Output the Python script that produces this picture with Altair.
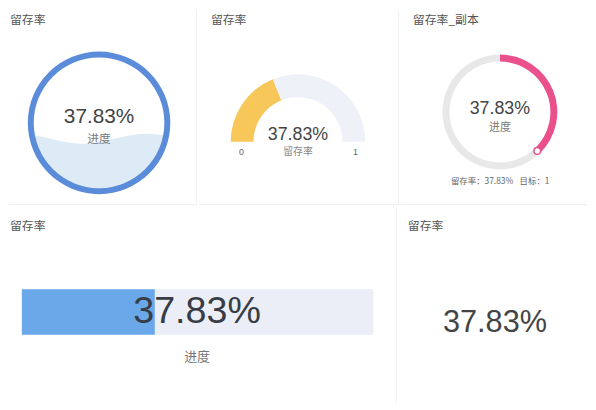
import math

import altair as alt
import numpy as np
import pandas as pd

# ---- data ----
card_titles = ["留存率", "留存率", "留存率_副本", "留存率", "留存率"]
retention = [0.3783]
target = [1]
gauge_ends = [0, 1]
progress_caption = ["进度"]
gauge_caption = ["留存率"]
target_caption = ["目标"]

LATIN = "Liberation Sans, Noto Sans CJK SC, sans-serif"
CJK = "Noto Sans CJK SC, Liberation Sans, sans-serif"
ROW1_H = 196
ROW2_H = 198
LINE = "#F0F0F0"

value = retention[0]
pct = f"{value * 100:.2f}%"
parts = pd.DataFrame({
    "part": ["done", "rest"],
    "v": [value, target[0] - value],
    "idx": [0, 1],
})


def label(text: str, x: float, y: float, size: float, color: str, font: str = LATIN, align: str = "center") -> alt.Chart:
    return (
        alt.Chart(pd.DataFrame({"t": [text]}))
        .mark_text(x=x, y=y, fontSize=size, color=color, font=font, align=align, baseline="middle")
        .encode(text="t:N")
    )


def card_title(text: str, x: float, y: float) -> alt.Chart:
    return label(text, x, y, 12, "#555555", CJK, align="left")


def divider(x: float, y: float, x2: float, y2: float) -> alt.Chart:
    return (
        alt.Chart(pd.DataFrame({"d": [0]}))
        .mark_rule(color=LINE, strokeWidth=1)
        .encode(x=alt.value(x), x2=alt.value(x2), y=alt.value(y), y2=alt.value(y2))
    )


def local_x(w: float) -> alt.X:
    return alt.X("px:Q", scale=alt.Scale(domain=[0, w], nice=False, zero=False), axis=None)


def local_y(h: float, field: str = "py") -> alt.Y:
    return alt.Y(f"{field}:Q", scale=alt.Scale(domain=[0, h], nice=False, zero=False, reverse=True), axis=None)


def stacked_arc(cx, cy, r_out, r_in, theta_range, colors):
    return (
        alt.Chart(parts)
        .mark_arc(x=cx, y=cy, radius=r_out, radius2=r_in)
        .encode(
            theta=alt.Theta("v:Q", stack=True, scale=alt.Scale(domain=[0, target[0]], range=theta_range)),
            color=alt.Color("part:N", scale=alt.Scale(domain=["done", "rest"], range=colors), legend=None),
            order=alt.Order("idx:Q"),
        )
    )


# ---- card 1: liquid fill ----
W1 = 190
c1x, c1y, r1o, r1i = 91, 113, 72, 66
xs = np.linspace(c1x - r1i, c1x + r1i, 133)
half = np.sqrt(np.clip(r1i ** 2 - (xs - c1x) ** 2, 0, None))
level = c1y + r1i - value * 2 * r1i
wave = level + 5 * np.sin(2 * np.pi * (xs - 42) / 130)
liquid = pd.DataFrame({"px": xs, "py": np.minimum(wave, c1y + half), "py2": c1y + half})

card1 = alt.layer(
    divider(W1 - 0.5, 0, W1 - 0.5, ROW1_H),
    divider(0, ROW1_H - 0.5, W1, ROW1_H - 0.5),
    alt.Chart(liquid).mark_area(orient="vertical", color="#DDEBF6").encode(
        x=local_x(W1), y=local_y(ROW1_H), y2="py2:Q"
    ),
    alt.Chart(pd.DataFrame({"t": target})).mark_arc(x=c1x, y=c1y, radius=r1o, radius2=r1i, color="#5B8CDA").encode(
        theta=alt.Theta("t:Q", scale=alt.Scale(domain=[0, target[0]], range=[0, 2 * math.pi]))
    ),
    label(pct, c1x, 107, 21, "#444444"),
    label(progress_caption[0], c1x, 129, 12, "#777777", CJK),
    card_title(card_titles[0], 1, 9),
).properties(width=W1, height=ROW1_H)

# ---- card 2: half gauge ----
W2 = 202
c2x, c2y = 100, 132
card2 = alt.layer(
    divider(W2 - 0.5, 0, W2 - 0.5, ROW1_H),
    divider(0, ROW1_H - 0.5, W2, ROW1_H - 0.5),
    stacked_arc(c2x, c2y, 68, 45, [-math.pi / 2, math.pi / 2], ["#F8C75A", "#EEF1F8"]),
    label(pct, c2x, 125, 18, "#444444"),
    label(gauge_caption[0], c2x, 142, 10, "#888888", CJK),
    label(str(gauge_ends[0]), 43, 142, 9, "#666666"),
    label(str(gauge_ends[1]), 158, 142, 9, "#666666"),
    card_title(card_titles[1], 12, 9),
).properties(width=W2, height=ROW1_H)

# ---- card 3: progress ring ----
W3 = 188
c3x, c3y, r3o, r3i = 100, 102, 58, 51
dot = (
    alt.Chart(pd.DataFrame({"v": retention}))
    .transform_calculate(
        px=f"{c3x} + {(r3o + r3i) / 2} * sin(2 * PI * datum.v)",
        py=f"{c3y} - {(r3o + r3i) / 2} * cos(2 * PI * datum.v)",
    )
    .mark_point(filled=True, fill="white", stroke="#E9508C", strokeWidth=1.5, size=45, opacity=1)
    .encode(x=local_x(W3), y=local_y(ROW1_H))
)
card3 = alt.layer(
    divider(0, ROW1_H - 0.5, W3, ROW1_H - 0.5),
    stacked_arc(c3x, c3y, r3o, r3i, [0, 2 * math.pi], ["#E9508C", "#E8E8E8"]),
    dot,
    label(pct, c3x, 99, 18, "#444444"),
    label(progress_caption[0], c3x, 118, 11, "#777777", CJK),
    label(f"{gauge_caption[0]}：{pct}", 82, 172, 8.5, "#666666", CJK),
    label(f"{target_caption[0]}：{target[0]}", 135, 172, 8.5, "#666666", CJK),
    card_title(card_titles[2], 12, 9),
).properties(width=W3, height=ROW1_H)

# ---- card 4: progress bar ----
W4 = 392
bar_scale = alt.Scale(domain=[0, target[0]], range=[13, 368], nice=False, zero=False)
bars = pd.DataFrame({"start": [0, 0], "end": [target[0], value], "part": ["rest", "done"]})
card4 = alt.layer(
    divider(W4 - 0.5, 0, W4 - 0.5, ROW2_H),
    alt.Chart(bars).mark_bar().encode(
        x=alt.X("start:Q", scale=bar_scale, axis=None),
        x2="end:Q",
        y=alt.value(83),
        y2=alt.value(129),
        color=alt.Color("part:N", scale=alt.Scale(domain=["done", "rest"], range=["#6AA8EA", "#EBEEF7"]), legend=None),
        order=alt.Order("part:N", sort="descending"),
    ),
    label(pct, 190, 106, 38, "#373C45"),
    label(progress_caption[0], 190, 152, 13, "#777777", CJK),
    card_title(card_titles[3], 1, 19),
).properties(width=W4, height=ROW2_H)

# ---- card 5: plain number ----
W5 = 188
card5 = alt.layer(
    label(pct, 99, 117, 31, "#444444"),
    card_title(card_titles[4], 11, 19),
).properties(width=W5, height=ROW2_H)

chart = (
    alt.vconcat(
        alt.hconcat(card1, card2, card3, spacing=0).resolve_scale(color="independent"),
        alt.hconcat(card4, card5, spacing=0).resolve_scale(color="independent"),
        spacing=0,
    )
    .resolve_scale(color="independent")
    .properties(padding=0, background="white")
    .configure_view(strokeWidth=0)
)

chart.save("out.html", embed_options={"renderer": "svg", "actions": False})
